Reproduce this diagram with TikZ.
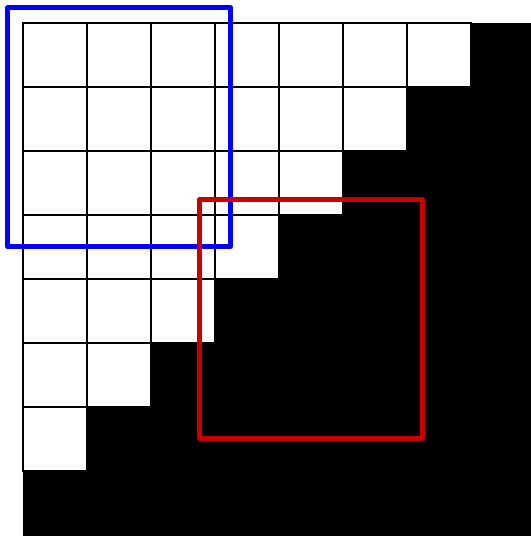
\documentclass[tikz,border=0pt]{standalone}
\definecolor{boxblue}{RGB}{0,0,255}
\definecolor{boxred}{RGB}{200,0,0}
\begin{document}
\begin{tikzpicture}[x=0.75pt,y=-0.75pt,
  whitecell/.style={draw=black,fill=white,line width=1.5pt},
  blackcell/.style={fill=black},
  frame/.style={line width=3.75pt,line join=round}]
\useasboundingbox (0,0) rectangle (531,536);
\begin{scope}
\clip (0,0) rectangle (531,536);
\foreach \r in {0,...,7}{
  \foreach \c in {0,...,7}{
    \pgfmathtruncatemacro{\s}{\r+\c}
    \ifnum\s<7
      \draw[whitecell] ({23+64*\c},{23+64*\r}) rectangle ++(64,64);
    \else
      \fill[blackcell] ({23+64*\c-0.5},{23+64*\r-0.5}) rectangle ++(65,65);
    \fi
  }
}
\end{scope}
\draw[boxblue,frame] (7.5,7.5) rectangle (230.5,246.5);
\draw[boxred,frame] (199.5,199.5) rectangle (422.5,438.5);
\end{tikzpicture}
\end{document}
